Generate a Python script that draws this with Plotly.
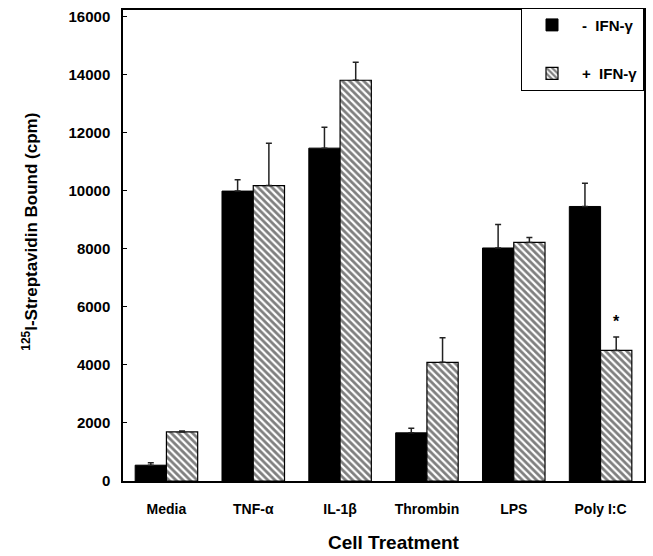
import plotly.graph_objects as go

categories = ["Media", "TNF-\u03b1", "IL-1\u03b2", "Thrombin", "LPS", "Poly I:C"]
minus_ifn = [545, 9990, 11470, 1660, 8030, 9460]
minus_err = [80, 390, 720, 160, 810, 800]
plus_ifn = [1690, 10180, 13810, 4090, 8220, 4500]
plus_err = [30, 1460, 620, 850, 170, 460]
y_ticks = [0, 2000, 4000, 6000, 8000, 10000, 12000, 14000, 16000]
star_category = "Poly I:C"
star_value = 5500

FONT = "Liberation Sans, Arial, sans-serif"

fig = go.Figure()
fig.add_trace(go.Bar(
    x=categories, y=minus_ifn, name="-  IFN-\u03b3", legendgroup="a",
    marker=dict(color="black", line=dict(color="black", width=1)),
    error_y=dict(type="data", array=minus_err, arrayminus=[0]*6, symmetric=False,
                 color="#222", thickness=1.5, width=3),
))
fig.add_trace(go.Bar(
    x=categories, y=plus_ifn, name="+  IFN-\u03b3", legendgroup="b",
    marker=dict(color="white", line=dict(color="black", width=1.2),
                pattern=dict(shape="\\", fgcolor="black", bgcolor="white", size=5, solidity=0.55)),
    error_y=dict(type="data", array=plus_err, arrayminus=[0]*6, symmetric=False,
                 color="#222", thickness=1.5, width=3),
))

fig.add_annotation(x=star_category, y=star_value, xref="x", yref="y", text="*",
                   showarrow=False, xshift=16, font=dict(family=FONT, size=16, color="black", weight="bold"))

fig.add_annotation(text="<sup>125</sup>I-Streptavidin Bound (cpm)", textangle=-90,
                   xref="paper", yref="paper", x=-0.178, y=0.53, xanchor="center", yanchor="middle",
                   showarrow=False, font=dict(family=FONT, size=17, color="black", weight="bold"))
fig.add_annotation(text="Cell Treatment", xref="paper", yref="paper", x=0.521, y=-0.13,
                   xanchor="center", yanchor="middle", showarrow=False,
                   font=dict(family=FONT, size=19, color="black", weight="bold"))

fig.update_layout(
    width=653, height=556,
    margin=dict(l=123, r=7, t=10, b=75),
    plot_bgcolor="white", paper_bgcolor="white",
    barmode="group", bargap=0.28, bargroupgap=0,
    showlegend=True,
    legend=dict(x=1, y=1.005, xanchor="right", yanchor="top", bgcolor="white",
                bordercolor="black", borderwidth=1, tracegroupgap=26,
                font=dict(family=FONT, size=15, color="black", weight="bold"),
                itemwidth=50),
    xaxis=dict(range=[-0.5, 5.5], showline=True, linecolor="black", linewidth=1.5, mirror=True,
               ticks="", showgrid=False, ticklabelstandoff=14,
               tickfont=dict(family=FONT, size=14, color="black", weight="bold")),
    yaxis=dict(range=[0, 16230], tickvals=y_ticks, ticktext=[str(v) for v in y_ticks],
               showline=True, linecolor="black", linewidth=1.5, mirror=True,
               ticks="inside", ticklen=4, tickcolor="black", showgrid=False, zeroline=False,
               ticklabelstandoff=8,
               tickfont=dict(family=FONT, size=15, color="black", weight="bold")),
)

fig.write_html("out.html")
